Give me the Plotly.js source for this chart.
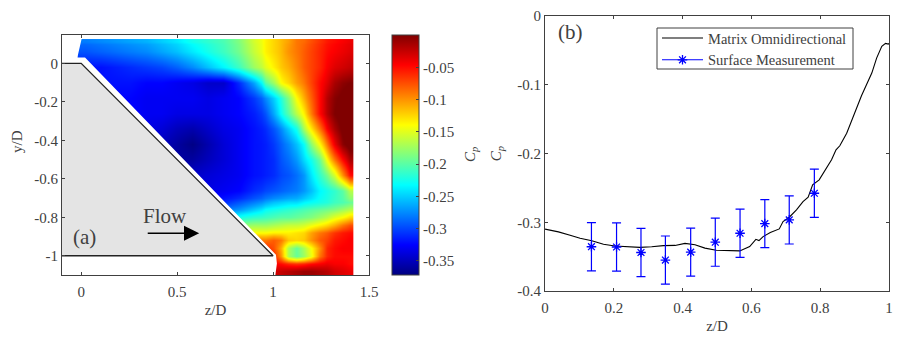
<!DOCTYPE html>
<html>
<head>
<meta charset="utf-8">
<script src="https://cdn.plot.ly/plotly-3.0.1.min.js"></script>
<style>
html, body { margin: 0; padding: 0; background: white; }
#graph { width: 899px; height: 338px; }
</style>
</head>
<body>
<div id="graph"></div>
<script>
// Panel (a): Cp map, cell edges in z/D and y/D, rows from the bottom up
const mapX = [-0.02, 0.06, 0.14, 0.22, 0.30, 0.38, 0.46, 0.54, 0.62, 0.70, 0.78, 0.86, 0.94, 0.98, 1.02, 1.06, 1.10, 1.14, 1.18, 1.22, 1.26, 1.30, 1.34, 1.38, 1.42];
const mapY = [-1.1, -1.06, -1.02, -0.98, -0.94, -0.90, -0.86, -0.82, -0.78, -0.74, -0.70, -0.62, -0.54, -0.46, -0.38, -0.30, -0.22, -0.14, -0.06, 0.02, 0.10, 0.126];
const mapZ = [
  [-0.04, -0.04, -0.04, -0.04, -0.04, -0.04, -0.04, -0.04, -0.04, -0.04, -0.04, -0.04, -0.04, -0.03, -0.025, -0.02, -0.015, -0.01, -0.01, -0.015, -0.02, -0.03, -0.035, -0.04],
  [-0.05, -0.05, -0.05, -0.05, -0.05, -0.05, -0.05, -0.05, -0.05, -0.05, -0.05, -0.05, -0.05, -0.045, -0.05, -0.06, -0.065, -0.06, -0.05, -0.045, -0.04, -0.045, -0.045, -0.05],
  [-0.05, -0.05, -0.05, -0.05, -0.05, -0.05, -0.05, -0.05, -0.05, -0.05, -0.05, -0.05, -0.05, -0.06, -0.10, -0.17, -0.195, -0.175, -0.145, -0.09, -0.06, -0.05, -0.05, -0.05],
  [-0.06, -0.06, -0.06, -0.06, -0.06, -0.06, -0.06, -0.06, -0.06, -0.06, -0.06, -0.06, -0.06, -0.075, -0.11, -0.17, -0.195, -0.17, -0.14, -0.10, -0.06, -0.05, -0.045, -0.045],
  [-0.09, -0.09, -0.09, -0.09, -0.09, -0.09, -0.09, -0.09, -0.09, -0.09, -0.09, -0.09, -0.09, -0.08, -0.09, -0.12, -0.125, -0.12, -0.10, -0.08, -0.07, -0.055, -0.05, -0.045],
  [-0.14, -0.14, -0.14, -0.14, -0.14, -0.14, -0.14, -0.14, -0.14, -0.14, -0.14, -0.14, -0.14, -0.135, -0.135, -0.135, -0.13, -0.125, -0.105, -0.09, -0.08, -0.065, -0.055, -0.05],
  [-0.18, -0.18, -0.18, -0.18, -0.18, -0.18, -0.18, -0.18, -0.18, -0.18, -0.18, -0.175, -0.175, -0.17, -0.165, -0.16, -0.16, -0.155, -0.145, -0.135, -0.125, -0.11, -0.09, -0.075],
  [-0.23, -0.23, -0.23, -0.23, -0.23, -0.23, -0.23, -0.23, -0.23, -0.23, -0.225, -0.215, -0.21, -0.205, -0.20, -0.20, -0.195, -0.19, -0.185, -0.175, -0.165, -0.15, -0.14, -0.125],
  [-0.28, -0.28, -0.28, -0.28, -0.28, -0.28, -0.28, -0.28, -0.28, -0.28, -0.27, -0.25, -0.23, -0.225, -0.22, -0.215, -0.21, -0.205, -0.20, -0.195, -0.19, -0.185, -0.175, -0.165],
  [-0.31, -0.31, -0.31, -0.31, -0.31, -0.31, -0.31, -0.31, -0.31, -0.31, -0.295, -0.28, -0.265, -0.255, -0.25, -0.245, -0.245, -0.235, -0.23, -0.225, -0.22, -0.21, -0.205, -0.195],
  [-0.335, -0.335, -0.335, -0.335, -0.335, -0.335, -0.335, -0.335, -0.335, -0.33, -0.325, -0.31, -0.30, -0.295, -0.29, -0.285, -0.28, -0.27, -0.255, -0.235, -0.225, -0.215, -0.20, -0.165],
  [-0.345, -0.345, -0.345, -0.345, -0.345, -0.345, -0.345, -0.345, -0.34, -0.335, -0.33, -0.32, -0.315, -0.31, -0.30, -0.295, -0.285, -0.27, -0.24, -0.215, -0.19, -0.155, -0.10, -0.05],
  [-0.36, -0.36, -0.36, -0.36, -0.36, -0.36, -0.36, -0.36, -0.35, -0.34, -0.33, -0.32, -0.315, -0.31, -0.295, -0.285, -0.27, -0.245, -0.225, -0.195, -0.14, -0.09, -0.05, -0.015],
  [-0.35, -0.35, -0.35, -0.35, -0.35, -0.35, -0.36, -0.37, -0.355, -0.34, -0.33, -0.32, -0.315, -0.305, -0.29, -0.275, -0.255, -0.23, -0.18, -0.14, -0.09, -0.04, -0.005, 0.01],
  [-0.335, -0.335, -0.335, -0.335, -0.335, -0.34, -0.35, -0.355, -0.345, -0.335, -0.33, -0.32, -0.31, -0.295, -0.275, -0.25, -0.225, -0.17, -0.13, -0.09, -0.045, -0.015, 0.005, 0.015],
  [-0.325, -0.325, -0.325, -0.325, -0.33, -0.33, -0.335, -0.335, -0.335, -0.33, -0.325, -0.315, -0.295, -0.265, -0.23, -0.20, -0.165, -0.135, -0.09, -0.05, -0.02, 0, 0.01, 0.015],
  [-0.325, -0.325, -0.325, -0.325, -0.33, -0.33, -0.33, -0.33, -0.335, -0.33, -0.325, -0.305, -0.275, -0.25, -0.22, -0.185, -0.14, -0.11, -0.08, -0.05, -0.02, -0.003, 0.005, 0.01],
  [-0.32, -0.32, -0.32, -0.32, -0.325, -0.325, -0.33, -0.335, -0.345, -0.345, -0.31, -0.265, -0.20, -0.175, -0.14, -0.125, -0.105, -0.09, -0.07, -0.05, -0.035, -0.015, -0.005, 0],
  [-0.32, -0.32, -0.315, -0.31, -0.305, -0.30, -0.29, -0.275, -0.255, -0.235, -0.21, -0.175, -0.15, -0.135, -0.12, -0.11, -0.095, -0.08, -0.07, -0.06, -0.045, -0.035, -0.03, -0.025],
  [-0.295, -0.29, -0.285, -0.28, -0.275, -0.265, -0.255, -0.24, -0.225, -0.21, -0.19, -0.16, -0.135, -0.125, -0.115, -0.10, -0.09, -0.08, -0.07, -0.06, -0.05, -0.045, -0.04, -0.035],
  [-0.28, -0.275, -0.27, -0.265, -0.26, -0.25, -0.24, -0.225, -0.215, -0.205, -0.185, -0.155, -0.135, -0.125, -0.115, -0.105, -0.09, -0.085, -0.075, -0.065, -0.055, -0.05, -0.045, -0.04]
];
const cbVals = [-0.05, -0.1, -0.15, -0.2, -0.25, -0.3, -0.35];
const cbText = ["-0.05", "-0.1", "-0.15", "-0.2", "-0.25", "-0.3", "-0.35"];

// Wedge outline and the white area around it where there is no data
const wedgeX = [-0.1, 0, 1, -0.1];
const wedgeY = [0, 0, -1, -1];
const blankX = [-0.1, 0.003, -0.02, 0.02, 1.015, 1.02, 1.012, -0.1];
const blankY = [0.15, 0.13, 0.03, 0.03, -0.995, -1.04, -1.1, -1.1];

// Panel (b)
const matrixX = [0, 0.039, 0.073, 0.102, 0.136, 0.17, 0.203, 0.242, 0.276, 0.31, 0.344, 0.378, 0.407, 0.436, 0.465, 0.498, 0.532, 0.566, 0.595, 0.613, 0.622, 0.634, 0.655, 0.681, 0.692, 0.71, 0.731, 0.75, 0.765, 0.778, 0.797, 0.814, 0.833, 0.846, 0.857, 0.877, 0.898, 0.92, 0.95, 0.964, 0.979, 0.99, 0.998, 1];
const matrixY = [-0.31, -0.314, -0.319, -0.3234, -0.327, -0.332, -0.3346, -0.336, -0.3366, -0.3356, -0.334, -0.3337, -0.3307, -0.3327, -0.3376, -0.3408, -0.3413, -0.3417, -0.3354, -0.3248, -0.3267, -0.3209, -0.315, -0.3097, -0.299, -0.2927, -0.282, -0.27, -0.2636, -0.2456, -0.2383, -0.2248, -0.2092, -0.1947, -0.1888, -0.1704, -0.1451, -0.116, -0.083, -0.0612, -0.0442, -0.0398, -0.0408, -0.04];
const surfaceX = [0.135, 0.208, 0.279, 0.35, 0.4235, 0.495, 0.567, 0.639, 0.71, 0.783];
const surfaceY = [-0.3356, -0.336, -0.344, -0.355, -0.3434, -0.329, -0.316, -0.302, -0.2966, -0.2578];
const surfaceErr = [0.035, 0.035, 0.035, 0.035, 0.035, 0.035, 0.035, 0.035, 0.035, 0.035];

const W = 899, H = 338;
const serif = "Liberation Serif, serif";
const ink = "#404040";

// same stops as the MATLAB jet map
const jet = [
  [0, "rgb(0,0,128)"], [0.125, "rgb(0,0,255)"], [0.375, "rgb(0,255,255)"],
  [0.625, "rgb(255,255,0)"], [0.875, "rgb(255,0,0)"], [1, "rgb(128,0,0)"]
];

const data = [
  {
    type: "heatmap", x: mapX, y: mapY, z: mapZ, xaxis: "x", yaxis: "y",
    zmin: -0.372, zmax: 0, zsmooth: "best", colorscale: jet,
    hoverinfo: "skip", showlegend: false,
    colorbar: {
      x: 392 / W, xref: "paper", xanchor: "left", xpad: 0,
      y: 1 - 275 / H, yref: "paper", yanchor: "bottom", ypad: 0,
      thicknessmode: "pixels", thickness: 27, lenmode: "pixels", len: 240,
      outlinecolor: ink, outlinewidth: 1, ticks: "inside", ticklen: 3, tickcolor: ink,
      tickvals: cbVals, ticktext: cbText, tickfont: { family: serif, size: 15, color: ink }
    }
  },
  {
    type: "scatter", x: blankX, y: blankY, xaxis: "x", yaxis: "y", mode: "lines",
    fill: "toself", fillcolor: "white", line: { width: 0 }, hoverinfo: "skip", showlegend: false
  },
  {
    type: "scatter", x: wedgeX, y: wedgeY, xaxis: "x", yaxis: "y", mode: "lines",
    fill: "toself", fillcolor: "#e4e4e4", line: { color: "#222", width: 1.3 }, hoverinfo: "skip", showlegend: false
  },
  {
    type: "scatter", x: matrixX, y: matrixY, xaxis: "x2", yaxis: "y2", mode: "lines",
    name: "Matrix Omnidirectional", line: { color: "black", width: 1.1 }
  },
  {
    // puntos sin linea, la entrada de la leyenda va aparte
    type: "scatter", x: surfaceX, y: surfaceY, xaxis: "x2", yaxis: "y2", mode: "markers", showlegend: false,
    marker: { symbol: "asterisk-open", size: 8, color: "#0000ff", line: { color: "#0000ff", width: 1.3 } },
    error_y: { type: "data", array: surfaceErr, visible: true, color: "#0000ff", thickness: 1.2, width: 4.5 }
  },
  {
    type: "scatter", x: [null], y: [null], xaxis: "x2", yaxis: "y2", mode: "lines+markers",
    name: "Surface Measurement", line: { color: "#0000ff", width: 1.1 },
    marker: { symbol: "asterisk-open", size: 8, color: "#0000ff", line: { color: "#0000ff", width: 1.3 } }
  }
];

const axisStyle = {
  showgrid: false, zeroline: false, showline: true, linecolor: ink, linewidth: 1,
  mirror: "allticks", ticks: "inside", ticklen: 3, tickcolor: ink,
  tickfont: { family: serif, size: 15, color: ink }
};

const layout = {
  width: W, height: H, showlegend: true, paper_bgcolor: "white", plot_bgcolor: "white",
  margin: { l: 0, r: 0, t: 0, b: 0 },
  xaxis: Object.assign({}, axisStyle, {
    domain: [62 / W, 369 / W], range: [-0.1, 1.5], anchor: "y",
    tickvals: [0, 0.5, 1, 1.5], ticktext: ["0", "0.5", "1", "1.5"], ticklabelstandoff: 3,
    title: { text: "z/D", standoff: 5, font: { family: serif, size: 15, color: ink } }
  }),
  yaxis: Object.assign({}, axisStyle, {
    domain: [1 - 275 / H, 1 - 35 / H], range: [-1.1, 0.147], anchor: "x",
    tickvals: [0, -0.2, -0.4, -0.6, -0.8, -1], ticktext: ["0", "-0.2", "-0.4", "-0.6", "-0.8", "-1"]
  }),
  xaxis2: Object.assign({}, axisStyle, {
    domain: [545 / W, 889 / W], range: [0, 1], anchor: "y2",
    tickvals: [0, 0.2, 0.4, 0.6, 0.8, 1], ticktext: ["0", "0.2", "0.4", "0.6", "0.8", "1"], ticklabelstandoff: 3,
    title: { text: "z/D", standoff: 5, font: { family: serif, size: 15, color: ink } }
  }),
  yaxis2: Object.assign({}, axisStyle, {
    domain: [1 - 291 / H, 1 - 16 / H], range: [-0.4, 0], anchor: "x2",
    tickvals: [0, -0.1, -0.2, -0.3, -0.4], ticktext: ["0", "-0.1", "-0.2", "-0.3", "-0.4"],
    title: { text: "<i>C<sub>p</sub></i>", standoff: 12, font: { family: serif, size: 15, color: ink } }
  }),
  // el marco de la leyenda de plotly sale mas alto que el original, se dibuja aparte
  legend: {
    x: 657 / W, xanchor: "left", y: 1 - 22 / H, yanchor: "top", tracegroupgap: 0,
    bgcolor: "rgba(0,0,0,0)", borderwidth: 0,
    font: { family: serif, size: 14.5, color: ink }, itemwidth: 41
  },
  shapes: [
    { type: "rect", xref: "paper", yref: "paper", x0: 657 / W, x1: 853 / W, y0: 1 - 69 / H, y1: 1 - 28 / H,
      line: { color: ink, width: 1 }, fillcolor: "white" }
  ],
  annotations: [
    { xref: "x", yref: "y", x: 0.615, y: -0.883, ax: 0.339, ay: -0.883, axref: "x", ayref: "y",
      text: "", showarrow: true, arrowhead: 2, arrowsize: 1.9, arrowwidth: 1.6, arrowcolor: "black" },
    { xref: "x", yref: "y", x: 0.437, y: -0.795, text: "Flow", showarrow: false,
      font: { family: serif, size: 21, color: ink } },
    { xref: "x", yref: "y", x: 0.015, y: -0.9, text: "(a)", showarrow: false,
      font: { family: serif, size: 21, color: ink } },
    { xref: "x2", yref: "y2", x: 0.073, y: -0.0233, text: "(b)", showarrow: false,
      font: { family: serif, size: 21, color: ink } },
    // titulos colocados a mano, no quedan centrados en el original
    { xref: "paper", yref: "paper", x: 17 / W, y: 1 - 142 / H, xanchor: "center", yanchor: "middle",
      text: "y/D", textangle: -90, showarrow: false, font: { family: serif, size: 15, color: ink } },
    { xref: "paper", yref: "paper", x: 471 / W, y: 1 - 155 / H, xanchor: "center", yanchor: "middle",
      text: "<i>C<sub>p</sub></i>", textangle: -90, showarrow: false, font: { family: serif, size: 15, color: ink } }
  ]
};

Plotly.newPlot("graph", data, layout, { displayModeBar: false, responsive: false });
</script>
</body>
</html>
